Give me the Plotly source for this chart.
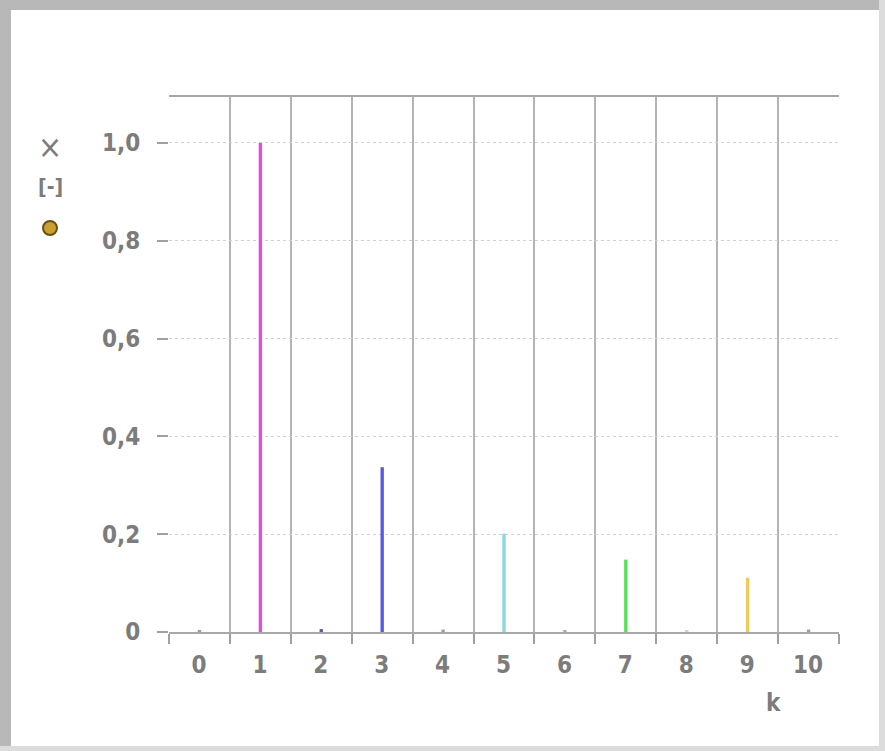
import plotly.graph_objects as go

# harmonic spectrum, k = 0..10
k_values = list(range(11))
amplitudes = [0.004, 1.0, 0.006, 0.337, 0.005, 0.201, 0.004, 0.148, 0.004, 0.111, 0.005]
bar_colors = ['#9a9aa8', '#e04ce0', '#5a5ab8', '#5858e4', '#9a9aa8', '#8ad8d8',
              '#a8a8a8', '#58e058', '#d8d8a0', '#eccc58', '#9a9aa8']

x_grid = [i - 0.5 for i in range(12)]
x_labels = [str(k) for k in k_values] + ['']
y_ticks = [0, 0.2, 0.4, 0.6, 0.8, 1.0]
y_labels = ['0', '0,2', '0,4', '0,6', '0,8', '1,0']

W, H = 885, 751
L, R, T, B = 169, 46, 97, 119
FONT = 'DejaVu Sans Condensed, Liberation Sans Narrow, sans-serif'
GREY = '#7c7c7c'


def px_x(p):
    return (p - L) / (W - L - R)


def px_y(p):
    return 1 - (p - T) / (H - T - B)


def text_at(s, x, y, size, weight='bold'):
    return dict(text=s, xref='paper', yref='paper', x=px_x(x), y=px_y(y),
                xanchor='center', yanchor='middle', showarrow=False,
                font=dict(size=size, color=GREY, weight=weight))


def box(x0, x1, y0, y1, color):
    return dict(type='rect', xref='paper', yref='paper', x0=px_x(x0), x1=px_x(x1),
                y0=px_y(y1), y1=px_y(y0), fillcolor=color, line=dict(width=0), layer='below')


fig = go.Figure(go.Bar(
    x=k_values,
    y=amplitudes,
    width=0.055,
    marker=dict(color=bar_colors, line=dict(width=0)),
    hoverinfo='x+y',
))

fig.update_layout(
    width=W,
    height=H,
    margin=dict(l=L, r=R, t=T, b=B),
    paper_bgcolor='white',
    plot_bgcolor='white',
    showlegend=False,
    font=dict(family=FONT, color=GREY, size=24, weight='bold'),
    xaxis=dict(
        range=[-0.5, 10.5],
        tickmode='array',
        tickvals=x_grid,
        ticktext=x_labels,
        ticklabelshift=30,
        ticks='outside',
        ticklen=10,
        tickwidth=2,
        tickcolor='#a0a0a0',
        showgrid=True,
        gridcolor='#b4b4b4',
        gridwidth=2,
        showline=True,
        linecolor='#a8a8a8',
        linewidth=2,
        mirror=True,
        zeroline=False,
        fixedrange=True,
    ),
    yaxis=dict(
        range=[0, 1.094],
        tickmode='array',
        tickvals=y_ticks,
        ticktext=y_labels,
        ticks='outside',
        ticklen=11,
        tickwidth=2,
        tickcolor='#a0a0a0',
        ticklabelstandoff=12,
        showgrid=True,
        gridcolor='#d0d0d0',
        gridwidth=1,
        griddash='dot',
        showline=False,
        zeroline=False,
        fixedrange=True,
    ),
    shapes=[
        # window frame
        box(0, 11, 0, H, '#b8b8b8'),
        box(0, W, 0, 10, '#b8b8b8'),
        box(879, W, 0, H, '#dcdcdc'),
        box(0, W, 746, H, '#dcdcdc'),
        # series symbol
        dict(type='circle', xref='paper', yref='paper',
             x0=px_x(43), x1=px_x(57), y0=px_y(235), y1=px_y(221),
             fillcolor='#c8a030', line=dict(color='#6a5010', width=2)),
    ],
    annotations=[
        text_at('×', 50, 147, 32, 'normal'),
        text_at('[-]', 50, 187, 21),
        text_at('k', 773, 703, 24),
    ],
)

fig.write_html("out.html", config={'displayModeBar': False},
               post_script="document.body.style.margin = '0';")
